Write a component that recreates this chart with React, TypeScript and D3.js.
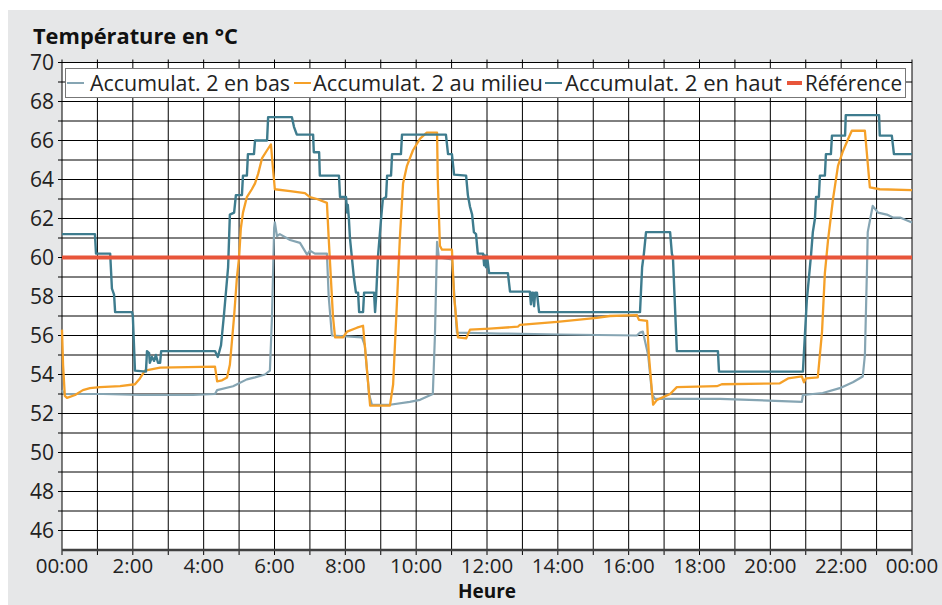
import React, { useEffect, useRef } from 'react';
import * as d3 from 'd3';

// hours of the day (0-24) and temperatures
const basHours = [0, 0.06, 1.16, 2.2, 3.7, 4.32, 4.38, 4.83, 5.22, 5.45, 5.73, 5.87, 5.93, 5.99, 6.01, 6.07, 6.15, 6.44, 6.72, 6.92, 7.0, 7.14, 7.48, 7.53, 7.62, 8.47, 8.55, 8.67, 8.75, 9.26, 9.82, 10.11, 10.47, 10.53, 10.59, 10.64, 11.01, 11.1, 11.15, 12.37, 14.06, 16.23, 16.32, 16.4, 16.55, 16.66, 16.74, 18.58, 20.89, 20.92, 21.48, 21.96, 22.33, 22.61, 22.67, 22.73, 22.75, 22.87, 22.89, 23.04, 23.29, 23.46, 23.66, 24];
const basValues = [53.2, 53.0, 53.0, 52.95, 52.95, 53.0, 53.2, 53.4, 53.75, 53.85, 54.0, 54.2, 57.0, 61.5, 61.8, 61.1, 61.2, 60.9, 60.75, 60.15, 60.35, 60.2, 60.2, 58.0, 56.0, 55.9, 55.5, 53.0, 52.45, 52.45, 52.6, 52.7, 53.0, 56.0, 60.8, 60.0, 59.9, 57.5, 56.15, 56.1, 56.05, 56.0, 56.15, 56.2, 55.0, 53.0, 52.75, 52.75, 52.6, 52.95, 53.05, 53.3, 53.6, 53.9, 55.0, 59.5, 61.3, 62.45, 62.65, 62.3, 62.2, 62.05, 62.05, 61.8];

const milieuHours = [0, 0.03, 0.08, 0.14, 0.37, 0.59, 0.79, 1.07, 1.64, 2.06, 2.2, 2.34, 2.77, 4.32, 4.38, 4.52, 4.66, 4.74, 4.86, 4.94, 5.0, 5.05, 5.11, 5.22, 5.36, 5.45, 5.54, 5.65, 5.79, 5.9, 5.96, 6.01, 6.44, 6.86, 7.0, 7.2, 7.48, 7.53, 7.65, 7.71, 7.93, 8.05, 8.33, 8.5, 8.55, 8.67, 8.7, 9.26, 9.35, 9.4, 9.46, 9.54, 9.63, 9.74, 9.91, 10.11, 10.3, 10.59, 10.61, 10.67, 10.73, 11.01, 11.07, 11.18, 11.41, 11.52, 12.08, 12.87, 12.93, 13.98, 15.1, 15.47, 16.23, 16.29, 16.52, 16.57, 16.69, 16.8, 17.17, 17.36, 18.49, 18.63, 20.27, 20.5, 20.89, 20.95, 21.0, 21.34, 21.46, 21.54, 21.63, 21.77, 21.91, 22.05, 22.19, 22.3, 22.67, 22.81, 23.09, 24];
const milieuValues = [56.3, 54.5, 52.9, 52.8, 52.95, 53.2, 53.3, 53.35, 53.4, 53.5, 53.8, 54.2, 54.35, 54.4, 53.65, 53.7, 53.85, 54.5, 57.0, 59.0, 60.0, 61.5, 62.3, 63.1, 63.5, 63.8, 64.3, 65.1, 65.5, 65.8, 64.5, 63.5, 63.4, 63.3, 63.1, 63.0, 62.8, 61.0, 57.0, 55.9, 55.9, 56.2, 56.4, 56.5, 55.5, 53.0, 52.4, 52.4, 53.5, 55.5, 57.8, 61.0, 63.8, 64.7, 65.5, 66.1, 66.4, 66.4, 64.0, 60.6, 60.4, 60.4, 58.0, 55.9, 55.85, 56.3, 56.35, 56.45, 56.55, 56.7, 56.9, 57.0, 57.05, 56.8, 56.75, 55.0, 52.45, 52.7, 53.0, 53.35, 53.4, 53.5, 53.55, 53.8, 53.9, 53.6, 53.8, 53.85, 56.2, 59.2, 60.9, 63.0, 64.7, 65.45, 66.05, 66.5, 66.5, 63.6, 63.5, 63.45];

const hautHours = [0, 0.93, 0.96, 1.36, 1.41, 1.47, 1.5, 1.98, 2.0, 2.06, 2.37, 2.4, 2.46, 2.48, 2.54, 2.6, 2.65, 2.71, 2.77, 2.8, 4.32, 4.4, 4.49, 4.57, 4.69, 4.74, 4.86, 4.91, 5.08, 5.11, 5.22, 5.25, 5.42, 5.45, 5.79, 5.82, 6.49, 6.55, 6.63, 7.09, 7.11, 7.26, 7.28, 7.82, 7.85, 8.02, 8.05, 8.07, 8.1, 8.13, 8.24, 8.3, 8.36, 8.39, 8.5, 8.53, 8.81, 8.84, 8.87, 8.92, 9.01, 9.06, 9.15, 9.18, 9.29, 9.32, 9.57, 9.6, 10.84, 10.9, 11.01, 11.07, 11.41, 11.46, 11.52, 11.58, 11.63, 11.69, 11.74, 11.89, 11.92, 11.94, 11.97, 12.0, 12.06, 12.59, 12.65, 13.21, 13.24, 13.27, 13.3, 13.33, 13.36, 13.41, 13.47, 16.32, 16.38, 16.43, 16.49, 17.17, 17.22, 17.25, 17.36, 18.52, 18.55, 20.92, 21.03, 21.15, 21.2, 21.26, 21.29, 21.37, 21.4, 21.54, 21.57, 21.71, 21.74, 22.11, 22.13, 23.07, 23.09, 23.43, 23.49, 24];
const hautValues = [61.2, 61.2, 60.2, 60.2, 58.4, 58.1, 57.2, 57.2, 57.0, 54.2, 54.15, 55.2, 55.1, 54.6, 54.9, 54.7, 55.0, 54.6, 54.6, 55.2, 55.2, 54.9, 55.5, 57.0, 59.5, 62.2, 62.3, 63.2, 63.2, 64.2, 64.2, 65.3, 65.3, 66.0, 66.0, 67.2, 67.2, 66.7, 66.3, 66.3, 65.4, 65.4, 64.2, 64.2, 63.1, 63.1, 62.3, 62.7, 62.0, 61.0, 59.0, 58.2, 58.2, 57.2, 57.2, 58.2, 58.2, 57.2, 58.0, 60.0, 62.0, 63.0, 63.1, 64.2, 64.2, 65.3, 65.3, 66.3, 66.3, 65.3, 65.3, 64.25, 64.2, 63.2, 62.6, 62.2, 61.3, 61.2, 60.2, 60.2, 59.6, 60.1, 59.5, 60.1, 59.2, 59.2, 58.25, 58.25, 57.6, 58.2, 58.2, 57.5, 58.2, 58.2, 57.2, 57.2, 59.5, 60.2, 61.3, 61.3, 60.2, 60.0, 55.2, 55.2, 54.15, 54.15, 57.8, 60.15, 61.3, 62.0, 63.1, 63.1, 64.2, 64.2, 65.3, 65.3, 66.25, 66.25, 67.3, 67.3, 66.25, 66.25, 65.3, 65.3];

const refHours = [0, 24];
const refValues = [60, 60];

const yTickValues = [46, 48, 50, 52, 54, 56, 58, 60, 62, 64, 66, 68, 70];
const xTickLabels = ['00:00', '2:00', '4:00', '6:00', '8:00', '10:00', '12:00', '14:00', '16:00', '18:00', '20:00', '22:00', '00:00'];

const seriesNames = ['Accumulat. 2 en bas', 'Accumulat. 2 au milieu', 'Accumulat. 2 en haut', 'Référence'];
const seriesColors = ['#86a5b3', '#f5a028', '#3e7c8e', '#e8553a'];

const FONT = '"Open Sans", "Noto Sans", sans-serif';

const App: React.FC = () => {
    const svgRef = useRef<SVGSVGElement>(null);

    useEffect(() => {
        const W = 942, H = 605;
        const svg = d3.select(svgRef.current).attr('width', W).attr('height', H);
        svg.selectAll('*').remove();

        const x = d3.scaleLinear().domain([0, 24]).range([62, 912]);
        const y = d3.scaleLinear().domain([45, 70]).range([550, 62.5]);

        svg.append('rect').attr('width', W).attr('height', H).attr('fill', '#fff');
        svg.append('rect').attr('x', 8).attr('y', 10).attr('width', W - 8).attr('height', H - 10).attr('fill', '#e6e7e8');
        svg.append('rect').attr('x', x(0)).attr('y', y(70)).attr('width', x(24) - x(0)).attr('height', y(45) - y(70)).attr('fill', '#fff');

        // grid
        const grid = svg.append('g').attr('stroke', '#000').attr('stroke-width', 1);
        d3.range(46, 71).forEach((v) => {
            grid.append('line').attr('x1', x(0) - 4).attr('x2', x(24)).attr('y1', y(v)).attr('y2', y(v));
        });
        d3.range(0, 25).forEach((h) => {
            grid.append('line').attr('x1', x(h)).attr('x2', x(h)).attr('y1', y(70) - 3).attr('y2', y(45) + 5);
        });

        // bottom axis line
        svg.append('line').attr('x1', x(0)).attr('x2', x(24)).attr('y1', y(45)).attr('y2', y(45))
            .attr('stroke', '#404040').attr('stroke-width', 2.5);

        // y labels
        svg.append('g').selectAll('text').data(yTickValues).enter().append('text')
            .attr('x', 54).attr('y', (d) => y(d)).attr('dy', '0.36em').attr('text-anchor', 'end')
            .attr('font-family', FONT).attr('font-size', 21).attr('fill', '#222').text((d) => d);

        // x labels
        svg.append('g').selectAll('text').data(xTickLabels).enter().append('text')
            .attr('x', (d, i) => x(i * 2)).attr('y', 573).attr('text-anchor', 'middle')
            .attr('font-family', FONT).attr('font-size', 20.5).attr('fill', '#222').text((d) => d);

        svg.append('text').attr('x', 33).attr('y', 44).attr('font-family', FONT).attr('font-weight', 700)
            .attr('font-size', 21).attr('textLength', 205).attr('lengthAdjust', 'spacingAndGlyphs')
            .attr('fill', '#111').text('Température en °C');
        svg.append('text').attr('x', (x(0) + x(24)) / 2).attr('y', 598).attr('text-anchor', 'middle')
            .attr('font-family', FONT).attr('font-weight', 700).attr('font-size', 19).attr('fill', '#111').text('Heure');

        const line = d3.line<[number, number]>().x((d) => x(d[0])).y((d) => y(d[1]));
        const series: [number[], number[]][] = [
            [basHours, basValues],
            [milieuHours, milieuValues],
            [hautHours, hautValues],
            [refHours, refValues],
        ];
        const widths = [2.2, 2.3, 2.4, 4];
        series.forEach(([hs, vs], i) => {
            const pts = hs.map((h, k) => [h, vs[k]] as [number, number]);
            svg.append('path').datum(pts).attr('d', line).attr('fill', 'none')
                .attr('stroke', seriesColors[i]).attr('stroke-width', widths[i]).attr('stroke-linejoin', 'round');
        });

        // legend
        const lg = svg.append('g');
        lg.append('rect').attr('x', 65.5).attr('y', 68.5).attr('width', 840).attr('height', 29)
            .attr('fill', '#fff').attr('stroke', '#777').attr('stroke-width', 1);
        const markerX = [67, 294, 545, 787];
        const textX = [90, 313, 565, 805];
        const textW = [200, 230, 217, 97];
        seriesNames.forEach((name, i) => {
            lg.append('line').attr('x1', markerX[i]).attr('x2', markerX[i] + (i === 3 ? 15 : 17))
                .attr('y1', 83).attr('y2', 83).attr('stroke', seriesColors[i]).attr('stroke-width', i === 3 ? 4 : 2);
            lg.append('text').attr('x', textX[i]).attr('y', 91)
                .attr('textLength', textW[i]).attr('lengthAdjust', 'spacingAndGlyphs')
                .attr('font-family', FONT).attr('font-size', 21.5).attr('fill', '#222').text(name);
        });
    }, []);

    return (
        <>
            <style>{'body{margin:0}'}</style>
            <svg ref={svgRef} style={{ display: 'block' }}></svg>
        </>
    );
};

export default App;
